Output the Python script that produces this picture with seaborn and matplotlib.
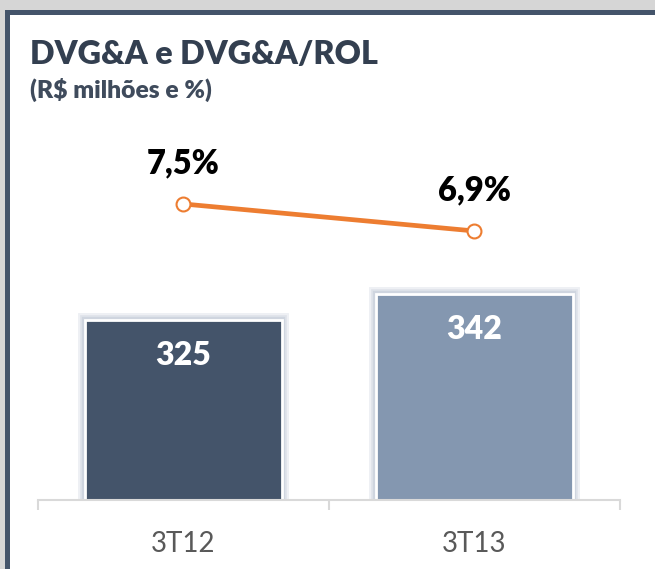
import matplotlib
matplotlib.use("Agg")
import matplotlib.pyplot as plt
import matplotlib.patheffects as pe
from matplotlib.patches import Rectangle
import numpy as np
import pandas as pd
import seaborn as sns

# ---- data ----
categories = ["3T12", "3T13"]
dvga = [325, 342]
dvga_rol = [7.5, 6.9]
dvga_labels = ["325", "342"]
pct_labels = ["7,5%", "6,9%"]
bar_colors = ["#44546a", "#8497b0"]

sns.set_theme(style="white")
plt.rcParams["font.family"] = ["Lato", "DejaVu Sans"]

W, H = 655, 569
fig = plt.figure(figsize=(W / 100, H / 100), dpi=100)
fig.patch.set_facecolor("white")

# outer frame (gray background + dark border)
fig.patches.append(Rectangle((0, 1 - 10 / H), 1, 10 / H, transform=fig.transFigure,
                             facecolor="#d6d6d6", edgecolor="none", zorder=0))
fig.patches.append(Rectangle((0, 0), 5 / W, 1, transform=fig.transFigure,
                             facecolor="#d6d6d6", edgecolor="none", zorder=0))
fig.patches.append(Rectangle((5 / W, 1 - 15 / H), 1 - 5 / W, 5 / H, transform=fig.transFigure,
                             facecolor="#44546a", edgecolor="none", zorder=1))
fig.patches.append(Rectangle((5 / W, 0), 5 / W, 1 - 10 / H, transform=fig.transFigure,
                             facecolor="#44546a", edgecolor="none", zorder=1))

# axes placement
left, right = 38 / W, 620 / W
bottom, top = 1 - 500 / H, 1 - 130 / H
ax = fig.add_axes([left, bottom, right - left, top - bottom])

df = pd.DataFrame({"cat": categories, "val": dvga})
sns.barplot(data=df, x="cat", y="val", hue="cat", palette=bar_colors, legend=False,
            width=0.68, ax=ax, edgecolor="white", linewidth=2, saturation=1)
for p in ax.patches:
    p.set_path_effects([
        pe.Stroke(linewidth=10, foreground="#eef0f4"),
        pe.Stroke(linewidth=7, foreground="#dfe3ea"),
        pe.Stroke(linewidth=4.5, foreground="#cfd5df"),
        pe.Normal(),
    ])
    p.set_clip_on(True)

ax.set_ylim(207.3, 449.3)
ax.set_xlim(-0.5, 1.5)
for s in ["top", "right", "left"]:
    ax.spines[s].set_visible(False)
ax.spines["bottom"].set_color("#d9d9d9")
ax.spines["bottom"].set_linewidth(1.5)
ax.set_yticks([])
ax.set_xlabel("")
ax.set_ylabel("")
ax.set_xticks([0, 1])
ax.set_xticklabels(categories, fontsize=20, color="#595959")
ax.tick_params(axis="x", which="major", length=0, pad=22)
ax.set_xticks([-0.5, 0.5, 1.5], minor=True)
ax.tick_params(axis="x", which="minor", bottom=True, length=7.5, width=1.5,
               color="#d9d9d9", direction="out")

for i, (v, lab) in enumerate(zip(dvga, dvga_labels)):
    ax.annotate(lab, (i, v), xytext=(0, -25.5), textcoords="offset points",
                ha="center", va="center", fontsize=23, fontweight="heavy", color="white")

# line on secondary axis
ax2 = ax.twinx()
ax2.set_ylim(0.922, 9.144)
ax2.plot(np.arange(len(categories)), dvga_rol, color="#ed7d31", lw=3.4,
         marker="o", markersize=10, markerfacecolor="white",
         markeredgecolor="#ed7d31", markeredgewidth=1.5, zorder=5)
for i, (v, lab) in enumerate(zip(dvga_rol, pct_labels)):
    ax2.annotate(lab, (i, v), xytext=(0, 29.5), textcoords="offset points",
                 ha="center", va="center", fontsize=23.5, fontweight="heavy", color="black")
ax2.set_yticks([])
for s in ax2.spines.values():
    s.set_visible(False)

# titles
fig.text(30 / W, 1 - 55 / H, "DVG&A e DVG&A/ROL", fontsize=23.3, fontweight="heavy",
         color="#333f50", ha="left", va="center")
fig.text(30 / W, 1 - 90 / H, "(R$ milhões e %)", fontsize=17.7, fontweight="heavy",
         color="#3f4b5c", ha="left", va="center")

fig.savefig("out.png", dpi=100)
